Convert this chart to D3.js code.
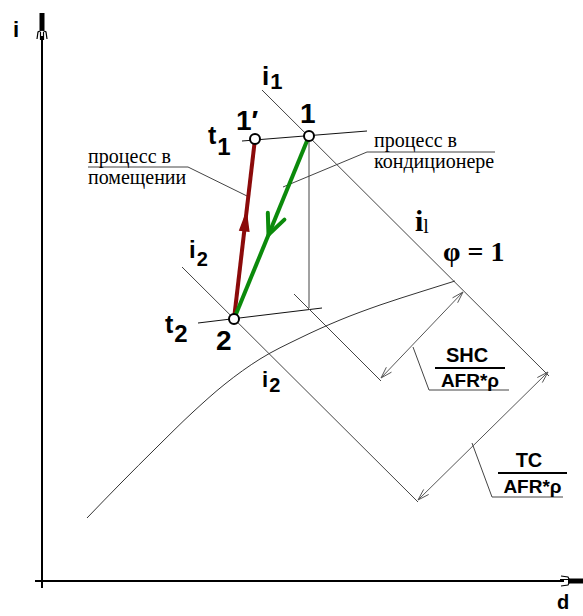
<!DOCTYPE html>
<html>
<head>
<meta charset="utf-8">
<script src="https://cdn.jsdelivr.net/npm/d3@7"></script>
<style>
  body { margin: 0; background: #fff; }
  svg { display: block; }
  .bold { font-family: "Liberation Sans", Arial, sans-serif; font-weight: bold; fill: #000; }
  .serif { font-family: "Liberation Serif", "Times New Roman", serif; fill: #000; }
</style>
</head>
<body>
<svg id="chart"></svg>
<script>
// i-d diagram, schematic units: d = moisture content, i = enthalpy
const states = [
  { name: "1'", d: 213, i: 442 },
  { name: "1", d: 267, i: 445 },
  { name: "2", d: 192, i: 262 }
];

// saturation line phi = 1
const saturation = [[45, 63], [78, 97], [115, 134], [151, 169], [183, 197], [218, 222],
  [258, 243], [298, 261], [338, 276], [378, 289], [413, 300]];

// isotherms and isenthalps drawn as guides
const guideLines = [
  [[200, 440], [325, 450]],   // t1
  [[156, 258], [280, 273]],   // t2
  [[220, 491], [507, 205]],   // i1
  [[140, 314], [376, 79]],    // i2
  [[267, 445], [267, 273]],   // d = const from 1
  [[252, 287], [339, 200]]    // i through sensible end point
];

// dimension arrows
const dimArrows = [
  [[339, 203], [421, 289]],   // SHC / (AFR*rho)
  [[376, 81], [506, 209]]     // TC / (AFR*rho)
];

// leader lines to captions
const leaders = [
  [[46, 414], [146, 414], [205, 385]],
  [[453, 429], [325, 429], [241, 394]],
  [[371, 234], [387, 191], [467, 191]],
  [[430, 138], [450, 84], [521, 84]]
];

const config = {
  width: 583,
  height: 616,
  origin: { x: 42, y: 581 }
};

const svg = d3.select("#chart")
  .attr("width", config.width)
  .attr("height", config.height);

const xScale = d3.scaleLinear().domain([0, 540]).range([config.origin.x, 582]);
const yScale = d3.scaleLinear().domain([0, 568]).range([config.origin.y, 13]);

const line = d3.line().x(d => xScale(d[0])).y(d => yScale(d[1]));
const curve = d3.line().x(d => xScale(d[0])).y(d => yScale(d[1])).curve(d3.curveMonotoneX);

// axes
svg.append("line")
  .attr("x1", xScale(0)).attr("x2", xScale(0))
  .attr("y1", yScale(-7)).attr("y2", yScale(545))
  .attr("stroke", "#000").attr("stroke-width", 2);
svg.append("line")
  .attr("x1", xScale(-7)).attr("x2", xScale(522))
  .attr("y1", yScale(0)).attr("y2", yScale(0))
  .attr("stroke", "#000").attr("stroke-width", 2);

// axis heads
const ax = xScale(0), ay = yScale(0);
svg.append("path")
  .attr("d", `M${ax - 2.5},13 L${ax + 2.5},13 L${ax + 2.5},30 L${ax - 2.5},30 Z`)
  .attr("fill", "#000");
svg.append("path")
  .attr("d", `M${ax - 5},39 L${ax - 4},32 L${ax},30 L${ax + 4},32 L${ax + 5},39 M${ax - 1.5},32 L${ax - 1.5},40 M${ax + 1.5},32 L${ax + 1.5},40`)
  .attr("fill", "none").attr("stroke", "#000").attr("stroke-width", 1.2);
svg.append("path")
  .attr("d", `M583,${ay - 2.5} L568,${ay - 2.5} L568,${ay + 2.5} L583,${ay + 2.5} Z`)
  .attr("fill", "#000");
svg.append("path")
  .attr("d", `M561,${ay - 5} L568,${ay - 4} L570,${ay} L568,${ay + 4} L561,${ay + 5} M568,${ay - 1.5} L560,${ay - 1.5}`)
  .attr("fill", "none").attr("stroke", "#000").attr("stroke-width", 1.2);

svg.append("text").attr("class", "bold").attr("x", 13).attr("y", 37)
  .attr("font-size", 22).text("i");
svg.append("text").attr("class", "bold").attr("x", 557).attr("y", 609)
  .attr("font-size", 20).text("d");

// saturation curve
svg.append("path")
  .attr("d", curve(saturation))
  .attr("fill", "none").attr("stroke", "#333").attr("stroke-width", 1);

// guides
svg.selectAll(".guide")
  .data(guideLines)
  .join("path")
  .attr("class", "guide")
  .attr("d", line)
  .attr("fill", "none")
  .attr("stroke", (d, k) => k < 2 ? "#111" : "#444")
  .attr("stroke-width", 1);

// leaders
svg.selectAll(".leader")
  .data(leaders)
  .join("path")
  .attr("class", "leader")
  .attr("d", line)
  .attr("fill", "none")
  .attr("stroke", "#444")
  .attr("stroke-width", 1);

// dimension arrows with open heads on both ends
function openHead(p, q, len, spread) {
  // head at p, pointing away from q
  const x0 = xScale(p[0]), y0 = yScale(p[1]);
  const x1 = xScale(q[0]), y1 = yScale(q[1]);
  const a = Math.atan2(y0 - y1, x0 - x1);
  const l = [x0 - len * Math.cos(a - spread), y0 - len * Math.sin(a - spread)];
  const r = [x0 - len * Math.cos(a + spread), y0 - len * Math.sin(a + spread)];
  return `M${l[0]},${l[1]} L${x0},${y0} L${r[0]},${r[1]}`;
}

svg.selectAll(".dim")
  .data(dimArrows)
  .join("path")
  .attr("class", "dim")
  .attr("d", d => line(d) + openHead(d[0], d[1], 12, 0.3) + openHead(d[1], d[0], 12, 0.3))
  .attr("fill", "none")
  .attr("stroke", "#555")
  .attr("stroke-width", 1);

// process lines
const p1p = states[0], p1 = states[1], p2 = states[2];
const processes = [
  { from: p2, to: p1p, color: "#8b0a0a", head: 0.59, filled: true },
  { from: p1, to: p2, color: "#0b8a0b", head: 0.54, filled: false }
];

svg.selectAll(".process")
  .data(processes)
  .join("line")
  .attr("class", "process")
  .attr("x1", d => xScale(d.from.d)).attr("y1", d => yScale(d.from.i))
  .attr("x2", d => xScale(d.to.d)).attr("y2", d => yScale(d.to.i))
  .attr("stroke", d => d.color)
  .attr("stroke-width", 4);

processes.forEach(pr => {
  const tip = [pr.from.d + (pr.to.d - pr.from.d) * pr.head, pr.from.i + (pr.to.i - pr.from.i) * pr.head];
  if (pr.filled) {
    const x0 = xScale(tip[0]), y0 = yScale(tip[1]);
    const a = Math.atan2(y0 - yScale(pr.from.i), x0 - xScale(pr.from.d));
    const len = 18, w = 4.5;
    const bx = x0 - len * Math.cos(a), by = y0 - len * Math.sin(a);
    svg.append("path")
      .attr("d", `M${x0},${y0} L${bx + w * Math.sin(a)},${by - w * Math.cos(a)} L${bx - w * Math.sin(a)},${by + w * Math.cos(a)} Z`)
      .attr("fill", pr.color).attr("stroke", pr.color).attr("stroke-width", 1.5);
  } else {
    svg.append("path")
      .attr("d", openHead(tip, [pr.from.d, pr.from.i], 22, 0.42))
      .attr("fill", "none").attr("stroke", pr.color)
      .attr("stroke-width", 4).attr("stroke-linecap", "round");
  }
});

// state points
svg.selectAll(".state")
  .data(states)
  .join("circle")
  .attr("class", "state")
  .attr("cx", d => xScale(d.d))
  .attr("cy", d => yScale(d.i))
  .attr("r", 5)
  .attr("fill", "#fff")
  .attr("stroke", "#000")
  .attr("stroke-width", 2);

// labels: [text, sub, x, y, size, subSize, subDy, family]
const labels = [
  ["1\u2032", "", 236, 130, 28, 0, 0, "bold"],
  ["1", "", 300, 123, 28, 0, 0, "bold"],
  ["2", "", 216, 350, 28, 0, 0, "bold"],
  ["t", "1", 208, 144, 25, 24, 11, "bold"],
  ["t", "2", 165, 333, 25, 24, 9, "bold"],
  ["i", "1", 262, 85, 26, 22, 4, "bold"],
  ["i", "2", 189, 258, 24, 20, 8, "bold"],
  ["i", "2", 262, 387, 22, 20, 5, "bold"]
];

labels.forEach(l => {
  const t = svg.append("text").attr("class", l[7])
    .attr("x", l[2]).attr("y", l[3]).attr("font-size", l[4]);
  t.append("tspan").text(l[0]);
  if (l[1]) t.append("tspan").attr("dy", l[6]).attr("dx", 1).attr("font-size", l[5]).text(l[1]);
});

// serif labels
const iL = svg.append("text").attr("class", "serif").attr("font-weight", "bold")
  .attr("x", 415).attr("y", 231).attr("font-size", 30);
iL.append("tspan").text("i");
iL.append("tspan").attr("dy", 2).attr("font-size", 20).attr("font-weight", "normal").text("l");

svg.append("text").attr("class", "serif").attr("font-weight", "bold")
  .attr("x", 443).attr("y", 261).attr("font-size", 28).text("\u03c6 = 1");

const captions = [
  ["процесс в", 88, 163],
  ["помещении", 88, 184],
  ["процесс в", 374, 147],
  ["кондиционере", 374, 168]
];
svg.selectAll(".caption")
  .data(captions)
  .join("text")
  .attr("class", "caption serif")
  .attr("x", d => d[1]).attr("y", d => d[2])
  .attr("font-size", 20)
  .text(d => d[0]);

// fractions
const fractions = [
  ["SHC", 467, 362, 435, 505, 368, 387],
  ["TC", 529, 467, 498, 567, 473, 493]
];
fractions.forEach(f => {
  svg.append("text").attr("class", "bold").attr("x", f[1]).attr("y", f[2])
    .attr("text-anchor", "middle").attr("font-size", 20).text(f[0]);
  svg.append("line").attr("x1", f[3]).attr("x2", f[4]).attr("y1", f[5]).attr("y2", f[5])
    .attr("stroke", "#000").attr("stroke-width", 2);
  svg.append("text").attr("class", "bold").attr("x", (f[3] + f[4]) / 2).attr("y", f[6])
    .attr("text-anchor", "middle").attr("font-size", 19).text("AFR*\u03c1");
});
</script>
</body>
</html>
